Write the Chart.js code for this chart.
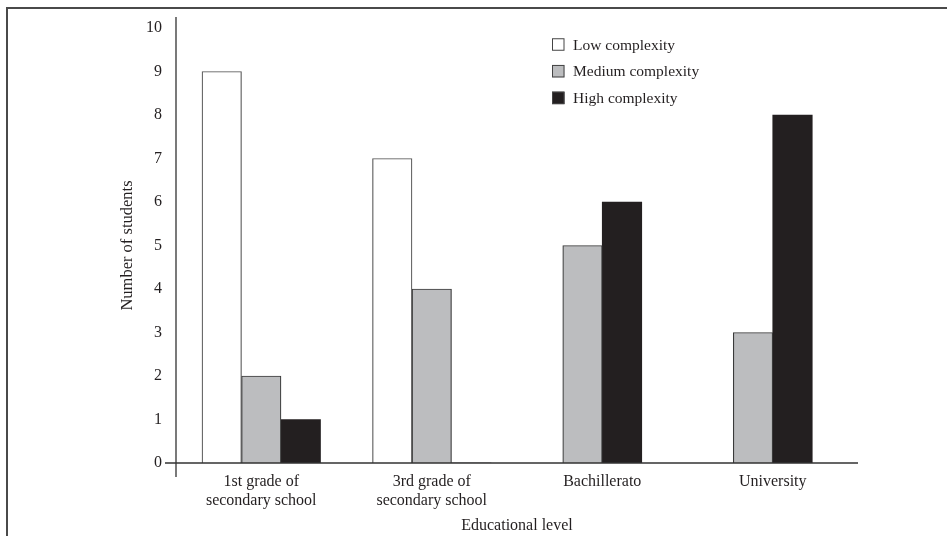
<!DOCTYPE html>
<html>
<head>
<meta charset="utf-8">
<script src="https://cdn.jsdelivr.net/npm/chart.js@4.4.1/dist/chart.umd.min.js"></script>
<style>
  html, body { margin: 0; padding: 0; background: #ffffff; }
  #wrap { position: relative; width: 947px; height: 536px; overflow: hidden; }
  #frame { position: absolute; left: 6px; top: 7px; width: 960px; height: 560px;
           border-top: 2px solid #4a4a4a; border-left: 2px solid #4a4a4a; box-sizing: border-box; pointer-events: none; }
  canvas { position: absolute; left: 0; top: 0; }
</style>
</head>
<body>
<div id="wrap">
  <canvas id="c" width="947" height="536"></canvas>
  <div id="frame"></div>
</div>
<script>
const categories = [
  ["1st grade of", "secondary school"],
  ["3rd grade of", "secondary school"],
  "Bachillerato",
  "University"
];
const seriesNames = ["Low complexity", "Medium complexity", "High complexity"];
const lowComplexity = [9, 7, null, null];
const mediumComplexity = [2, 4, 5, 3];
const highComplexity = [1, 0, 6, 8];
const yTickMin = 0;
const yTickMax = 10;
const yTickStep = 1;
const xAxisTitle = "Educational level";
const yAxisTitle = "Number of students";

const FONT = "'Liberation Serif', 'Times New Roman', serif";
const TEXT = "#231f20";

const axesPlugin = {
  id: 'axesLines',
  afterDraw(chart) {
    const {ctx, chartArea: a} = chart;
    ctx.save();
    ctx.strokeStyle = '#333333';
    ctx.lineWidth = 1.3;
    ctx.beginPath();
    ctx.moveTo(a.left, a.top - 11);
    ctx.lineTo(a.left, a.bottom + 14);
    ctx.moveTo(a.left - 11, a.bottom);
    ctx.lineTo(a.right, a.bottom);
    ctx.stroke();
    ctx.restore();
  }
};

const legendPlugin = {
  id: 'insideLegend',
  afterDraw(chart) {
    const {ctx} = chart;
    const x0 = 552, y0 = 44.5, gap = 26.7, box = 12.5;
    ctx.save();
    ctx.font = "15.5px " + FONT;
    ctx.textBaseline = 'middle';
    ctx.textAlign = 'left';
    chart.data.datasets.forEach((ds, i) => {
      const cy = y0 + i * gap;
      ctx.fillStyle = ds.backgroundColor;
      ctx.fillRect(x0, cy - box / 2, box, box);
      ctx.strokeStyle = '#444444';
      ctx.lineWidth = 1;
      ctx.strokeRect(x0 + 0.5, cy - box / 2 + 0.5, box - 1, box - 1);
      ctx.fillStyle = TEXT;
      ctx.fillText(ds.label, x0 + 21, cy + 1);
    });
    ctx.restore();
  }
};

new Chart(document.getElementById('c'), {
  type: 'bar',
  data: {
    labels: categories,
    datasets: [
      { label: seriesNames[0], data: lowComplexity, backgroundColor: '#ffffff', borderColor: '#555555', borderWidth: 1.2 },
      { label: seriesNames[1], data: mediumComplexity, backgroundColor: '#bcbdbf', borderColor: '#3a3a3a', borderWidth: 1.2 },
      { label: seriesNames[2], data: highComplexity, backgroundColor: '#231f20', borderColor: '#231f20', borderWidth: 0 }
    ]
  },
  options: {
    responsive: false,
    animation: false,
    devicePixelRatio: 1,
    skipNull: true,
    barThickness: 39.5,
    layout: { padding: { top: 28, right: 89, left: 0, bottom: 0 } },
    plugins: {
      legend: { display: false },
      tooltip: { enabled: false }
    },
    scales: {
      x: {
        grid: { display: false, drawTicks: false },
        border: { display: false },
        ticks: { color: TEXT, font: { family: FONT, size: 16, lineHeight: 1.2 }, padding: 9, maxRotation: 0, autoSkip: false },
        title: { display: true, text: xAxisTitle, color: TEXT, font: { family: FONT, size: 16 }, padding: { top: 0, bottom: 0.5 } },
        afterFit(scale) { scale.height = 73; }
      },
      y: {
        min: yTickMin,
        max: yTickMax,
        grid: { display: false, drawTicks: false },
        border: { display: false },
        ticks: { stepSize: yTickStep, color: TEXT, font: { family: FONT, size: 16 }, padding: 14 },
        title: { display: true, text: yAxisTitle, color: TEXT, font: { family: FONT, size: 16.5 }, padding: { top: 117.5, bottom: 0 } },
        afterFit(scale) { scale.width = 176; }
      }
    }
  },
  plugins: [axesPlugin, legendPlugin]
});
</script>
</body>
</html>
